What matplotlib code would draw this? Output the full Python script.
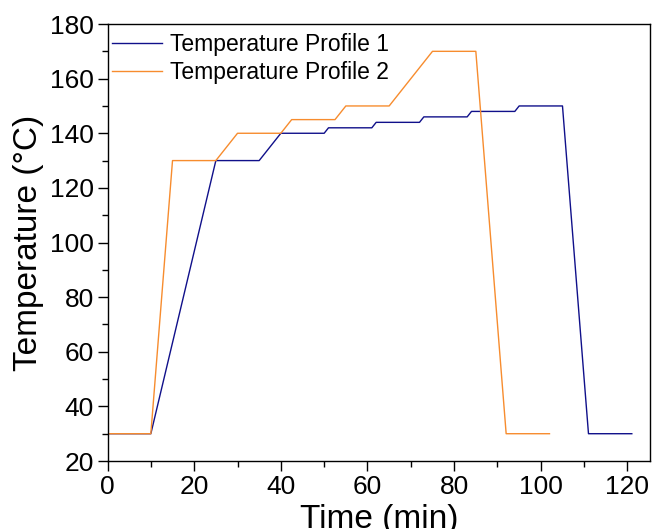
import matplotlib
matplotlib.use('Agg')
import matplotlib.pyplot as plt
from matplotlib.ticker import MultipleLocator

plt.rcParams['font.family'] = ['Liberation Sans', 'DejaVu Sans']

# profile 1: time (min) and temperature (C)
t1 = [0, 10, 25, 35, 40, 50, 51, 61, 62, 72, 73, 83, 84, 94, 95, 105, 111, 121]
T1 = [30, 30, 130, 130, 140, 140, 142, 142, 144, 144, 146, 146, 148, 148, 150, 150, 30, 30]

# profile 2
t2 = [0, 10, 15, 25, 30, 40, 42.5, 52.5, 55, 65, 75, 85, 92, 102]
T2 = [30, 30, 130, 130, 140, 140, 145, 145, 150, 150, 170, 170, 30, 30]

fig = plt.figure(figsize=(6.54, 5.29), dpi=100)
ax = fig.add_axes([0.1644, 0.1285, 0.8295, 0.8261])

ax.plot(t1, T1, color='#10108a', lw=1.0, label='Temperature Profile 1')
ax.plot(t2, T2, color='#f78c2e', lw=1.0, label='Temperature Profile 2')

ax.set_xlim(0, 125.2)
ax.set_ylim(20, 180)
ax.xaxis.set_major_locator(MultipleLocator(20))
ax.xaxis.set_minor_locator(MultipleLocator(10))
ax.yaxis.set_major_locator(MultipleLocator(20))
ax.yaxis.set_minor_locator(MultipleLocator(10))
ax.tick_params(which='major', direction='out', length=7, width=1, labelsize=19, pad=3)
ax.tick_params(which='minor', direction='out', length=4, width=1)
for s in ax.spines.values():
    s.set_linewidth(1.0)

ax.set_xlabel('Time (min)', fontsize=24, labelpad=4)
ax.set_ylabel('Temperature (°C)', fontsize=24, labelpad=4)

leg = ax.legend(loc='upper left', bbox_to_anchor=(-0.009, 1.0), frameon=False,
                fontsize=16.5, handlelength=2.2, handletextpad=0.35,
                borderaxespad=0.2, borderpad=0.2, labelspacing=0.2)

fig.savefig('out.png', dpi=100)
